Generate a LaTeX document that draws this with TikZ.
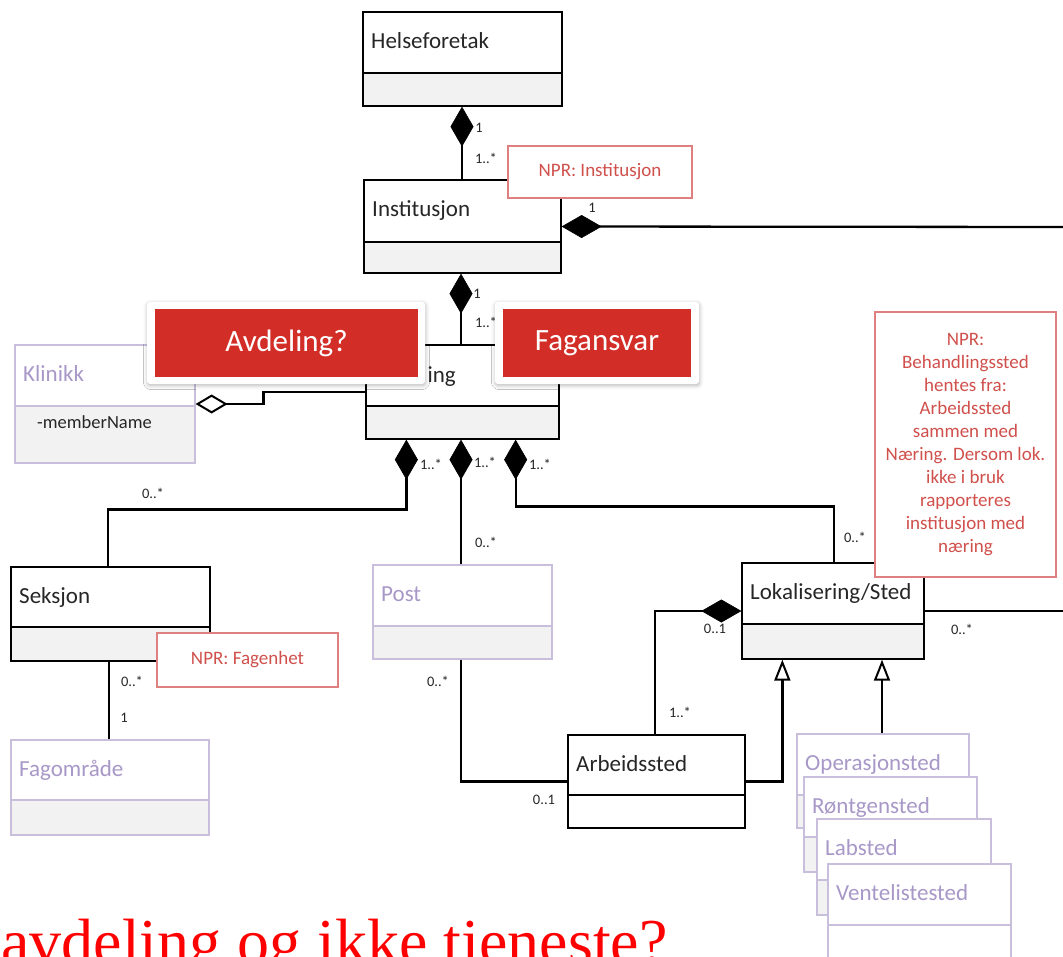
\documentclass[tikz,border=0pt]{standalone}
\usepackage{fontspec}
\setmainfont{Carlito}
\newfontfamily\serifbig{Liberation Serif}
\usetikzlibrary{arrows.meta,fit,calc,shadows.blur}

\definecolor{lavline}{HTML}{C9BFDD}
\definecolor{lavtext}{HTML}{A898C8}
\definecolor{notered}{HTML}{DE8080}
\definecolor{notetext}{HTML}{D0504C}
\definecolor{callred}{HTML}{D22D27}
\definecolor{gray95}{HTML}{F2F2F2}

\tikzset{
  cls/.style={draw=black, line width=1.3pt, inner sep=0pt},
  lavcls/.style={draw=lavline, line width=1.2pt, inner sep=0pt},
  conn/.style={line width=2.3pt, line join=miter},
  comp/.style={-{Diamond[length=40pt,width=23pt,line width=0.6pt]}},
  agg/.style={-{Diamond[open,length=32pt,width=19pt,line width=2pt]}},
  gen/.style={-{Triangle[open,length=21pt,width=16pt,line width=2pt]}},
  mult/.style={font=\fontsize{14.5}{16}\selectfont, inner sep=0pt, text=black!85},
  clsname/.style={anchor=base west, font=\fontsize{23}{27}\selectfont, inner sep=0pt},
  note/.style={draw=notered, line width=1.2pt, fill=white, inner sep=0pt},
  notetxt/.style={text=notetext, font=\fontsize{19}{22.9}\selectfont, align=center, inner sep=0pt},
  calloutbg/.style={fill=white, rounded corners=3pt, inner sep=0pt,
     blur shadow={shadow xshift=0.5pt, shadow yshift=-1.5pt, shadow blur radius=4pt, shadow opacity=30}},
  calloutfg/.style={fill=callred, inner sep=0pt, text=white, font=\fontsize{31}{36}\selectfont},
}

\def\lowfill{gray95}
% #1 name, #2 style, #3 x1, #4 y1, #5 x2, #6 ydiv, #7 y2, #8 text colour, #9 label
\newcommand\umlclass[9]{%
  \fill[white] (#3,#4) rectangle (#5,#7);
  \fill[\lowfill] (#3,#6) rectangle (#5,#7);
  \node[#2, fit={(#3,#4) (#5,#7)}] (#1) {};
  \draw[#2] (#3,#6) -- (#5,#6);
  \node[clsname, text=#8] at (#3+8,#4+36.5) {#9};
}

\begin{document}
\begin{tikzpicture}[x=1pt,y=-1pt]
\useasboundingbox (0,0) rectangle (1063,956);
\begin{scope}
\clip (0,0) rectangle (1063,956);

% classes
\umlclass{helse}{cls}{363}{12}{562}{73}{106}{black!85}{Helseforetak}
\umlclass{inst}{cls}{364}{180}{561}{242}{273}{black!85}{Institusjon}
\umlclass{naer}{cls}{366}{345}{559}{406}{439}{black!85}{}
\node[anchor=base east, inner sep=0pt, font=\fontsize{23}{27}\selectfont, text=black!85] (naerlbl) at (456,382) {ing};
\umlclass{klin}{lavcls}{15}{345}{195}{406}{463}{lavtext}{Klinikk}
\node[anchor=base west, inner sep=0pt, font=\fontsize{18.5}{22}\selectfont, text=black!85] (member) at (37,428) {-memberName};
\umlclass{seks}{cls}{11}{567}{210}{627}{661}{black!85}{Seksjon}
\umlclass{fag}{lavcls}{11}{740}{209}{800}{835}{lavtext}{Fagområde}
\umlclass{post}{lavcls}{373}{565}{552}{626}{659}{lavtext}{Post}
\umlclass{lok}{cls}{742}{563}{924}{624}{659}{black!85}{Lokalisering/Sted}
\def\lowfill{white}
\umlclass{arb}{cls}{568}{735}{745}{795}{828}{black!85}{Arbeidssted}
\def\lowfill{gray95}
\umlclass{oper}{lavcls}{797}{734}{969}{795}{828}{lavtext}{Operasjonsted}
\umlclass{ront}{lavcls}{804}{777}{977}{837}{872}{lavtext}{Røntgensted}
\umlclass{lab}{lavcls}{817}{819}{991}{880}{915}{lavtext}{Labsted}
\def\lowfill{white}
\umlclass{vent}{lavcls}{828}{864}{1011}{925}{975}{lavtext}{Ventelistested}

% free ends at the right edge
\coordinate (instR) at (1075,227);
\coordinate (lokR) at (1075,611);

% connectors
\draw[conn,comp] (inst.north -| 462,0) -- (helse.south -| 462,0);
\draw[conn,comp] (instR) -- (inst.east);
\draw[conn,comp] (naer.north -| 461,0) -- (inst.south -| 461,0);
\draw[conn,agg] (naer.west) -- ++(-102,0) |- (klin.east);
\draw[conn,comp] (seks.north -| 108,0) -- ++(0,-57) -| ($(naer.south west)+(41,0)$);
\draw[conn,comp] (post.north -| 461,0) -- (naer.south -| 461,0);
\draw[conn,comp] (lok.north -| 834,0) -- ++(0,-56) -| ($(naer.south east)+(-44,0)$);
\draw[conn] (seks.south -| 109,0) -- (fag.north -| 109,0);
\draw[conn] (post.south -| 461,0) |- (arb.west);
\draw[conn,comp] (arb.north -| 655,0) |- (lok.west);
\draw[conn,gen] (arb.east) -| ($(lok.south west)+(41,0)$);
\draw[conn,gen] (oper.north -| 882,0) -- (lok.south -| 882,0);
\draw[conn] (lok.east) -- (lokR);

% multiplicities
\node[mult] (m1) at (479,128) {1};
\node[mult] (m2) at (486,158) {1..*};
\node[mult] (m3) at (592,208) {1};
\node[mult] (m4) at (477,294) {1};
\node[mult] (m5) at (486,322) {1..*};
\node[mult] (m6) at (212,380) {1};
\node[mult] (m7) at (431,464) {1..*};
\node[mult] (m8) at (485,462) {1..*};
\node[mult] (m9) at (540,464) {1..*};
\node[mult] (m10) at (153,493) {0..*};
\node[mult] (m11) at (486,542) {0..*};
\node[mult] (m12) at (855,537) {0..*};
\node[mult] (m13) at (132,681) {0..*};
\node[mult] (m14) at (124,718) {1};
\node[mult] (m15) at (438,681) {0..*};
\node[mult] (m16) at (544,800) {0..1};
\node[mult] (m17) at (715,629) {0..1};
\node[mult] (m18) at (680,712) {1..*};
\node[mult] (m19) at (962,629) {0..*};

% notes
\node[note, fit={(508,146) (692,198)}] (n1) {};
\node[notetxt] (n1t) at (n1.center) {NPR: Institusjon};
\node[note, fit={(157,633) (338,687)}] (n2) {};
\node[notetxt] (n2t) at (n2.center) {NPR: Fagenhet};
\node[note, fit={(875,312) (1056,577)}] (n3) {};
\node[notetxt] (n3t) at (n3.center) {NPR:\\Behandlingssted\\hentes fra:\\Arbeidssted\\sammen med\\Næring. Dersom lok.\\ikke i bruk\\rapporteres\\institusjon med\\næring};

% callouts
\node[calloutbg, minimum width=278pt, minimum height=82pt] (c1) at (286,343) {};
\node[calloutfg, minimum width=263pt, minimum height=68pt] (c1t) at (286.5,343) {Avdeling?};
\node[calloutbg, minimum width=204pt, minimum height=82pt] (c2) at (597,343) {};
\node[calloutfg, minimum width=188pt, minimum height=68pt] (c2t) at (597,343) {Fagansvar};

% bottom question
\node[anchor=base west, inner sep=0pt, text=red, font=\serifbig\fontsize{64}{72}\selectfont] (q) at (1,963) {avdeling og ikke tjeneste?};
\end{scope}
\end{tikzpicture}
\end{document}
